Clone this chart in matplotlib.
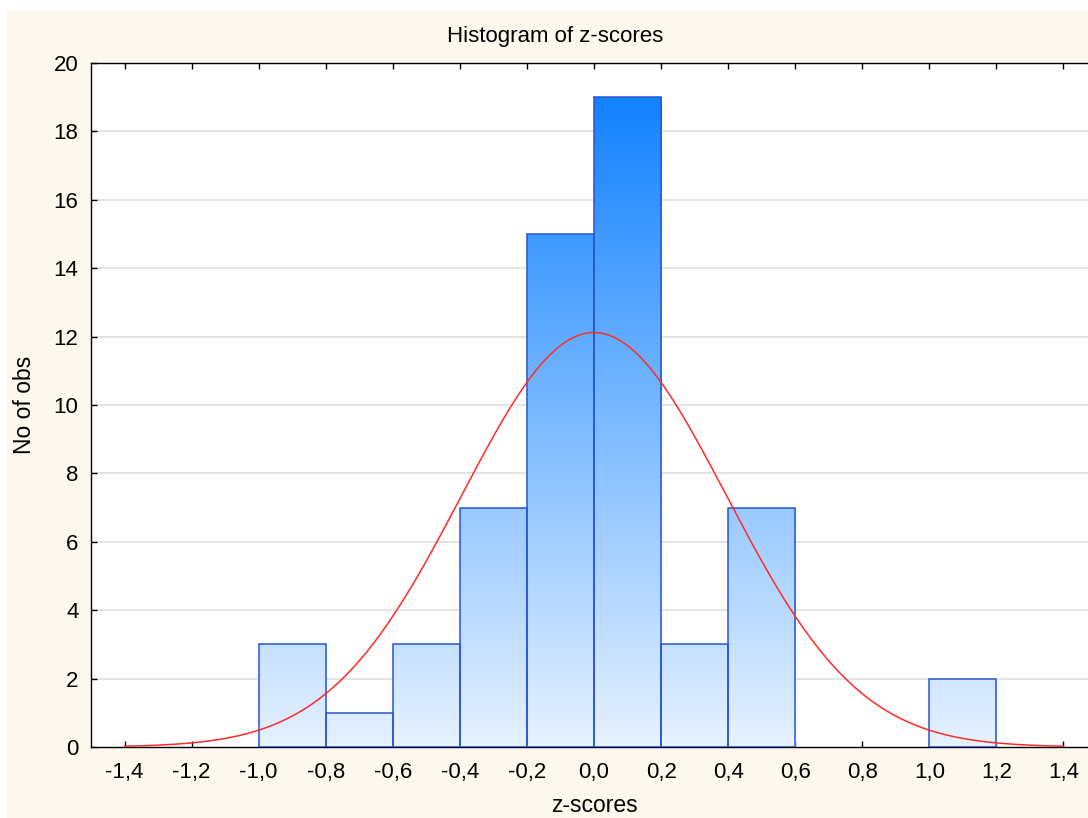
import numpy as np
import matplotlib
matplotlib.use("Agg")
import matplotlib.pyplot as plt
from matplotlib.patches import Rectangle
from matplotlib.ticker import FuncFormatter
from matplotlib.colors import LinearSegmentedColormap

plt.rcParams['font.family'] = ['Liberation Sans', 'DejaVu Sans']

# ---- data ----
bin_left = [-1.0, -0.8, -0.6, -0.4, -0.2, 0.0, 0.2, 0.4, 0.6, 0.8, 1.0]
counts = [3, 1, 3, 7, 15, 19, 3, 7, 0, 0, 2]
bin_width = 0.2
fit_mean = 0.0
fit_sd = 0.395
n_obs = sum(counts)
x_ticks = [-1.4, -1.2, -1.0, -0.8, -0.6, -0.4, -0.2, 0.0, 0.2, 0.4, 0.6, 0.8, 1.0, 1.2, 1.4]
y_ticks = [0, 2, 4, 6, 8, 10, 12, 14, 16, 18, 20]

W, H = 1088, 818
fig = plt.figure(figsize=(W / 100, H / 100), dpi=100, facecolor='white')
# cream panel
fig.patches.append(Rectangle((7 / W, 0), 1, (H - 10) / H, transform=fig.transFigure,
                             facecolor='#fdf8ee', edgecolor='none', zorder=-10))

ax = fig.add_axes([91 / W, (H - 747) / H, (1097 - 91) / W, (747 - 63) / H])
ax.set_facecolor('white')

# grid
for yv in y_ticks[1:-1]:
    ax.axhline(yv, color='#e2e2e2', lw=1.3, zorder=0)

cmap = LinearSegmentedColormap.from_list('g', ['#e6f2ff', '#1282ff'])
grad = np.linspace(0, 1, 256).reshape(-1, 1)
for xl, c in zip(bin_left, counts):
    if c <= 0:
        continue
    rect = Rectangle((xl, 0), bin_width, c, facecolor='none', edgecolor='#2656d6',
                     lw=1.1, zorder=3)
    ax.add_patch(rect)
    im = ax.imshow(grad, cmap=cmap, origin='lower', aspect='auto',
                   extent=(-1.5, 1.5, 0, 19), zorder=2, interpolation='bilinear')
    im.set_clip_path(rect)

ax.set_xlim(-1.5, 1.5)
ax.set_ylim(0, 20)

# normal fit
xs = np.linspace(-1.4, 1.4, 400)
ys = n_obs * bin_width / (fit_sd * np.sqrt(2 * np.pi)) * np.exp(-0.5 * ((xs - fit_mean) / fit_sd) ** 2)
ax.plot(xs, ys, color='#ff2a2a', lw=1.1, zorder=4)

ax.set_xticks(x_ticks)
ax.set_yticks(y_ticks)
ax.xaxis.set_major_formatter(FuncFormatter(lambda v, p: f"{v:.1f}".replace('.', ',').replace('-0,0', '0,0')))
ax.tick_params(axis='both', direction='in', length=4, width=1, colors='black',
               labelsize=16, top=True, right=True)
ax.tick_params(axis='x', pad=11)
ax.tick_params(axis='y', pad=9)
for s in ax.spines.values():
    s.set_color('black')
    s.set_linewidth(1)

fig.text(555 / W, (H - 42) / H, 'Histogram of z-scores', ha='center', va='baseline', fontsize=16)
fig.text(25 / W, (H - 405) / H, 'No of obs', ha='center', va='center', rotation=90, fontsize=16.5)
fig.text(594 / W, 1 / H, 'z-scores', ha='center', va='bottom', fontsize=16.5)

fig.savefig('out.png', dpi=100, facecolor='white')
